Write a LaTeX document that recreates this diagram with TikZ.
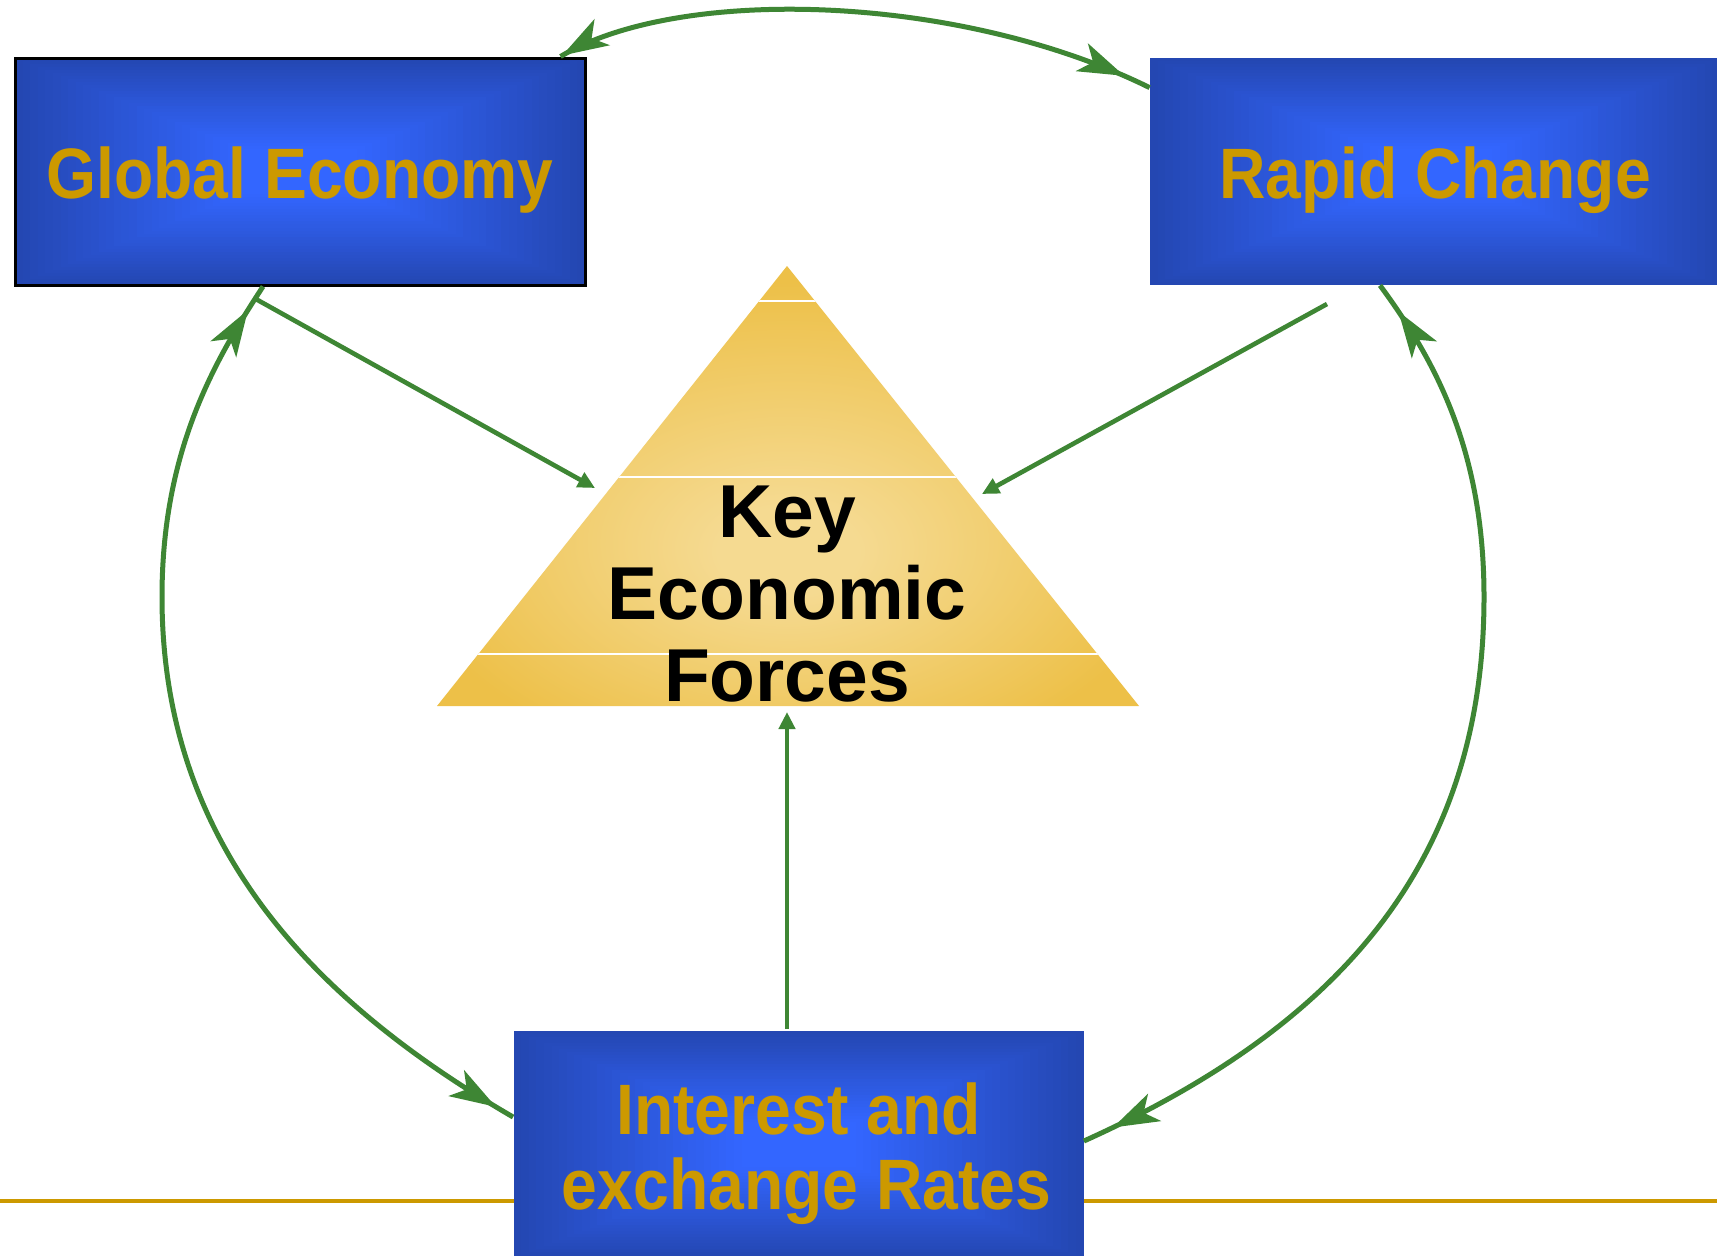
\documentclass[tikz,border=0pt]{standalone}
\usepackage{fontspec}
\setmainfont{Liberation Sans}
\newfontfamily\boxfam{Liberation Sans}[FakeStretch=0.9]
\usetikzlibrary{calc,arrows.meta,decorations.markings}
\definecolor{blueC}{RGB}{51,102,255}
\definecolor{blueE}{RGB}{36,71,178}
\definecolor{goldtxt}{RGB}{204,153,0}
\definecolor{arrowgreen}{RGB}{62,134,52}
\definecolor{trilight}{RGB}{245,218,145}
\definecolor{tridark}{RGB}{237,192,72}
\pgfdeclareradialshading{trishade}{\pgfpoint{0bp}{-8bp}}{color(0bp)=(trilight); color(5bp)=(trilight); color(28bp)=(tridark); color(70bp)=(tridark)}
\newcommand{\dropline}[1]{\raisebox{0pt}[\dimexpr\height+9pt\relax]{#1}}
\tikzset{
  bluebox/.style={rectangle, minimum width=285pt, minimum height=113.5pt, inner sep=0pt,
    fill=blueE, text=goldtxt, align=center,
    font=\boxfam\bfseries\fontsize{35.7pt}{37.5pt}\selectfont,
    path picture={
      \foreach \i in {0,...,30}{
        \pgfmathsetmacro{\f}{\i/75}
        \pgfmathtruncatemacro{\p}{min(100,\i*3.4)}
        \fill[blueC!\p!blueE]
          ($(path picture bounding box.south west)!\f!(path picture bounding box.north east)$)
          rectangle
          ($(path picture bounding box.north east)!\f!(path picture bounding box.south west)$);
      }}},
  keytext/.style={align=center, inner sep=0pt, text=black,
    font=\bfseries\fontsize{37.5pt}{41pt}\selectfont},
  arcline/.style={draw=arrowgreen, line width=2.5pt},
  archeads/.style 2 args={postaction={decorate}, decoration={markings,
    mark=at position #1 with {\arrowreversed[arrowgreen]{Stealth[length=23pt,width=15pt,inset=6pt]}},
    mark=at position -#2 with {\arrow[arrowgreen]{Stealth[length=23pt,width=15pt,inset=6pt]}}}},
  straightarrow/.style={draw=arrowgreen, line width=2.3pt,
    -{Triangle[length=8.5pt,width=8pt]}},
}
\begin{document}
\begin{tikzpicture}[x=0.5pt,y=-0.5pt]
\useasboundingbox (0,0) rectangle (1717,1255);
\clip (0,0) rectangle (1717,1255);
\fill[white] (0,0) rectangle (1717,1255);

% gold rule
\draw[line width=2.2pt, goldtxt] (0,1201) -- (1717,1201);

% triangle
\coordinate (apex) at (787,266);
\coordinate (tbl) at (437,706);
\coordinate (tbr) at (1139,706);
\shade[shading=trishade] (apex) -- (tbr) -- (tbl) -- cycle;
\begin{scope}
  \clip (apex) -- (tbr) -- (tbl) -- cycle;
  \draw[white, line width=0.7pt] (400,301) -- (1200,301);
  \draw[white, line width=0.7pt] (400,477) -- (1200,477);
  \draw[white, line width=0.7pt] (400,654) -- (1200,654);
\end{scope}
\node[keytext] (kef) at (787,594) {Key\\Economic\\Forces};

% boxes
\node[bluebox, draw=black, line width=1.5pt] (ge) at (300,171.5) {\dropline{Global Economy}};
\node[bluebox] (rc) at (1435,171.5) {\dropline{Rapid Change}};
\node[bluebox] (ir) at (798.5,1144.5) {\dropline{Interest and}\\\hspace*{8pt}exchange Rates};

% arcs
\draw[arcline, archeads={1pt}{14pt}]
  ([xshift=-13pt]ge.north east) .. controls (680,-15) and (960,-6) .. ([yshift=-15pt]rc.north west);
\draw[arcline, archeads={14pt}{10pt}]
  ([xshift=-18.5pt]ge.south) .. controls (215,360) and (162,450) .. (162,597)
  .. controls (162,850) and (320,1005) .. ([yshift=13.75pt]ir.west);
\draw[arcline, archeads={16pt}{16pt}]
  ([xshift=-27.5pt]rc.south) .. controls (1435,360) and (1484,450) .. (1484,597)
  .. controls (1484,870) and (1330,1030) .. ([yshift=1.75pt]ir.east);

% straight arrows
\coordinate (geout) at (254,298);
\coordinate (triL) at (595,488);
\coordinate (rcout) at (1327,304);
\coordinate (triR) at (982,494);
\coordinate (irout) at (787,1029);
\coordinate (triB) at (787,712);
\draw[straightarrow] (geout) -- (triL);
\draw[straightarrow] (rcout) -- (triR);
\draw[straightarrow] (irout) -- (triB);
\end{tikzpicture}
\end{document}
